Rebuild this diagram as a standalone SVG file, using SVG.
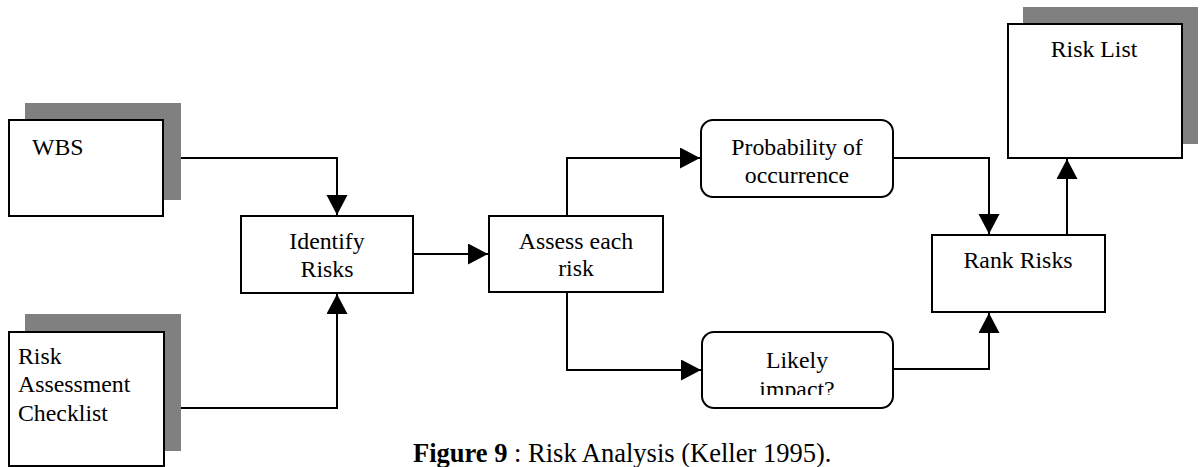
<svg xmlns="http://www.w3.org/2000/svg" width="1201" height="467" viewBox="0 0 1201 467">
<style>
.box{fill:#fff;stroke:#000;stroke-width:2}
.shadow{fill:#808080;stroke:none}
.t{font-family:"Liberation Serif","Times New Roman",serif;font-size:23.8px;fill:#000}
.c{text-anchor:middle}
.conn{fill:none;stroke:#000;stroke-width:2}
.cap{font-family:"Liberation Serif","Times New Roman",serif;font-size:26.5px;fill:#000}
</style>
<defs>
<marker id="arr" markerUnits="userSpaceOnUse" markerWidth="21" markerHeight="22" refX="20" refY="10.5" orient="auto">
<path d="M0,0 L20,10.5 L0,21 z" fill="#000"/>
</marker>
<clipPath id="clipImpact"><rect x="700" y="330" width="195" height="65"/></clipPath>
</defs>
<rect width="1201" height="467" fill="#fff"/>
<g id="connectors">
<polyline class="conn" points="163,158 337,158 337,215" marker-end="url(#arr)"/>
<polyline class="conn" points="164,408 337,408 337,294" marker-end="url(#arr)"/>
<polyline class="conn" points="413,254 488,254" marker-end="url(#arr)"/>
<polyline class="conn" points="567,216 567,158 700,158" marker-end="url(#arr)"/>
<polyline class="conn" points="567,292 567,370 701,370" marker-end="url(#arr)"/>
<polyline class="conn" points="893,158 989,158 989,234" marker-end="url(#arr)"/>
<polyline class="conn" points="893,369 989,369 989,313" marker-end="url(#arr)"/>
<polyline class="conn" points="1067,235 1067,159" marker-end="url(#arr)"/>
</g>
<g id="wbs">
<rect class="shadow" x="25" y="103" width="156" height="97"/>
<rect class="box" x="9" y="120" width="154" height="96"/>
<text class="t" x="32" y="155">WBS</text>
</g>
<g id="checklist">
<rect class="shadow" x="25" y="314" width="156" height="137"/>
<rect class="box" x="9" y="332" width="155" height="134"/>
<text class="t" x="18" y="364">Risk</text>
<text class="t" x="18" y="392">Assessment</text>
<text class="t" x="18" y="421">Checklist</text>
</g>
<g id="identify">
<rect class="box" x="241" y="216" width="172" height="77"/>
<text class="t c" x="327" y="249">Identify</text>
<text class="t c" x="327" y="277">Risks</text>
</g>
<g id="assess">
<rect class="box" x="489" y="216" width="174" height="76"/>
<text class="t c" x="576" y="249">Assess each</text>
<text class="t c" x="576" y="276">risk</text>
</g>
<g id="probability">
<rect class="box" x="701" y="120" width="192" height="77" rx="12" ry="12"/>
<text class="t c" x="797" y="155">Probability of</text>
<text class="t c" x="797" y="183">occurrence</text>
</g>
<g id="impact">
<rect class="box" x="702" y="332" width="191" height="76" rx="12" ry="12"/>
<text class="t c" x="797" y="368">Likely</text>
<text class="t c" x="797" y="397" clip-path="url(#clipImpact)">impact?</text>
</g>
<g id="rank">
<rect class="box" x="932" y="235" width="173" height="77"/>
<text class="t c" x="1018" y="268">Rank Risks</text>
</g>
<g id="risklist">
<rect class="shadow" x="1023" y="7" width="175" height="137"/>
<rect class="box" x="1008" y="24" width="174" height="134"/>
<text class="t c" x="1094" y="57">Risk List</text>
</g>
<text class="cap" x="413" y="462"><tspan font-weight="bold">Figure 9</tspan> : Risk Analysis (Keller 1995).</text>
</svg>
